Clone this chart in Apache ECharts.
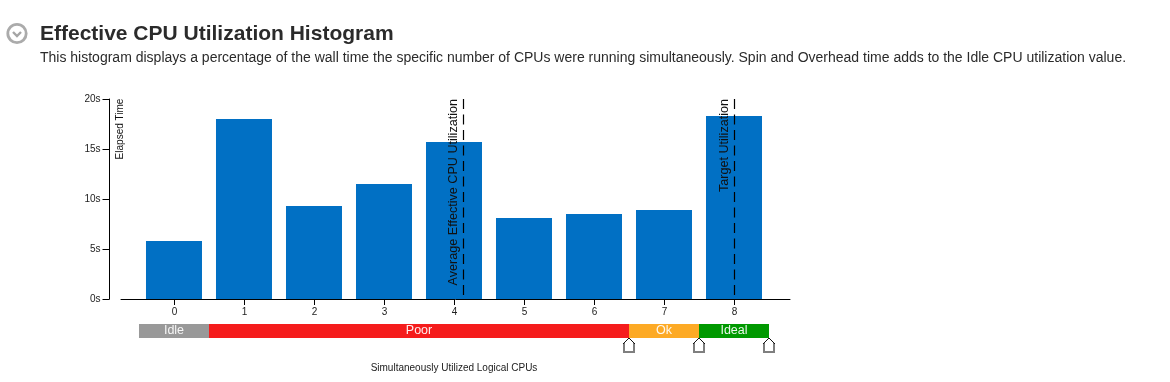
<!DOCTYPE html>
<html><head><meta charset="utf-8">
<style>html,body{margin:0;padding:0;background:#fff}#c{width:1170px;height:382px}</style>
<script src="https://cdn.jsdelivr.net/npm/echarts@6/dist/echarts.min.js"></script>
</head><body><div id="c"></div>
<script>
const cpus = [0,1,2,3,4,5,6,7,8];
const elapsed = [5.8,18.0,9.3,11.5,15.7,8.1,8.5,8.9,18.3];
const yTicks = [0,5,10,15,20];
const bandNames = ['Idle','Poor','Ok','Ideal'];
const bandStarts = [-0.5,0.5,6.5,7.5];
const bandEnds = [0.5,6.5,7.5,8.5];
const bandColors = ['#999999','#f51c1c','#fdaa25','#009900'];
const handles = [6.5,7.5,8.5];
const averageUtil = 4.13, targetUtil = 8;
const FONT = '"Liberation Sans", Arial, sans-serif';
const xMin = -0.757, xMax = 8.8;

const chart = echarts.init(document.getElementById('c'), null, {renderer:'canvas'});
chart.setOption({
  animation:false,
  backgroundColor:'#fff',
  title:[
    {text:'Effective CPU Utilization Histogram',left:40,top:24,padding:0,
     textStyle:{fontFamily:FONT,fontSize:21,fontWeight:'bold',color:'#2b2b2b'}},
    {text:'This histogram displays a percentage of the wall time the specific number of CPUs were running simultaneously. Spin and Overhead time adds to the Idle CPU utilization value.',
     left:40,top:51,padding:0,textStyle:{fontFamily:FONT,fontSize:14,fontWeight:'normal',color:'#2b2b2b'}}
  ],
  graphic:[
    {type:'circle',shape:{cx:17,cy:33.5,r:9.2},style:{fill:'#fff',stroke:'#ababab',lineWidth:2.8}},
    {type:'polyline',shape:{points:[[13,32],[17,36],[21,32]]},style:{fill:'none',stroke:'#a5a5a5',lineWidth:2.4}},
    {type:'text',x:120,y:129,rotation:Math.PI/2,style:{text:'Elapsed Time',fontFamily:FONT,fontSize:10,fill:'#111',align:'center',verticalAlign:'middle'}},
    {type:'text',x:454,y:368.5,style:{text:'Simultaneously Utilized Logical CPUs',fontFamily:FONT,fontSize:10,fill:'#222',align:'center',verticalAlign:'middle'}}
  ],
  grid:[
    {left:121,top:99,width:669,height:200},
    {left:121,top:324,width:669,height:30}
  ],
  xAxis:[
    {type:'value',gridIndex:0,min:xMin,max:xMax,splitLine:{show:false},
     axisLine:{show:true,onZero:false,lineStyle:{color:'#000',width:1}},
     axisTick:{show:true,length:6,customValues:cpus,lineStyle:{color:'#000'}},
     axisLabel:{show:true,customValues:cpus,margin:8,padding:[0,0,0,1],fontFamily:FONT,fontSize:10,color:'#222',formatter:v=>String(v),showMinLabel:true,showMaxLabel:true}},
    {type:'value',gridIndex:1,min:xMin,max:xMax,show:false}
  ],
  yAxis:[
    {type:'value',gridIndex:0,min:0,max:20,interval:5,offset:11.5,position:'left',splitLine:{show:false},
     axisLine:{show:true,onZero:false,lineStyle:{color:'#000',width:1}},
     axisTick:{show:true,length:7,lineStyle:{color:'#000'}},
     axisLabel:{margin:9,padding:[4,0,0,0],fontFamily:FONT,fontSize:10,color:'#222',formatter:v=>yTicks.includes(v)?v+'s':''}},
    {type:'value',gridIndex:1,min:0,max:30,inverse:true,show:false}
  ],
  series:[
    {type:'bar',xAxisIndex:0,yAxisIndex:0,barWidth:56,data:cpus.map((c,i)=>[c,elapsed[i]]),
     itemStyle:{color:'#0170c4'},
     markLine:{silent:true,symbol:'none',animation:false,
       lineStyle:{color:'#000',type:[10,5.5],dashOffset:11.5,width:1.2},
       label:{show:true,position:'insideEndTop',rotate:90,distance:[0,3],fontFamily:FONT,fontSize:12.6,color:'#111',formatter:'{b}'},
       data:[{name:'Average Effective CPU Utilization',xAxis:averageUtil},{name:'Target Utilization',xAxis:targetUtil}]},
     z:2},
    {type:'custom',xAxisIndex:1,yAxisIndex:1,clip:false,
     data:bandNames.map((n,i)=>[bandStarts[i],bandEnds[i],n]),
     encode:{x:[0,1]},
     renderItem:(p,api)=>{
       const i=p.dataIndex;
       const a=api.coord([api.value(0),0]), b=api.coord([api.value(1),14]);
       return {type:'group',children:[
         {type:'rect',shape:{x:a[0],y:a[1],width:b[0]-a[0],height:b[1]-a[1]},style:{fill:bandColors[i]}},
         {type:'text',style:{x:(a[0]+b[0])/2,y:(a[1]+b[1])/2,text:bandNames[i],fill:'#fff',opacity:.92,align:'center',verticalAlign:'middle',fontFamily:FONT,fontSize:12.5}}
       ]};
     }},
    {type:'custom',xAxisIndex:1,yAxisIndex:1,clip:false,
     data:handles.map(h=>[h]),
     encode:{x:0},
     renderItem:(p,api)=>{
       const c=api.coord([api.value(0),14]);
       const x=c[0],y=c[1];
       return {type:'group',children:[
         {type:'polygon',shape:{points:[[x,y],[x+5,y+5],[x+5,y+14],[x-5,y+14],[x-5,y+5]]},style:{fill:'#fff',stroke:'none'}},
         {type:'polyline',shape:{points:[[x-5,y+5],[x-5,y+14],[x+5,y+14],[x+5,y+5]]},style:{fill:'none',stroke:'#7f7f7f',lineWidth:2}},
         {type:'polyline',shape:{points:[[x-6,y+6],[x,y],[x+6,y+6]]},style:{fill:'none',stroke:'#111',lineWidth:1}}
       ]};
     }}
  ]
});
</script></body></html>
